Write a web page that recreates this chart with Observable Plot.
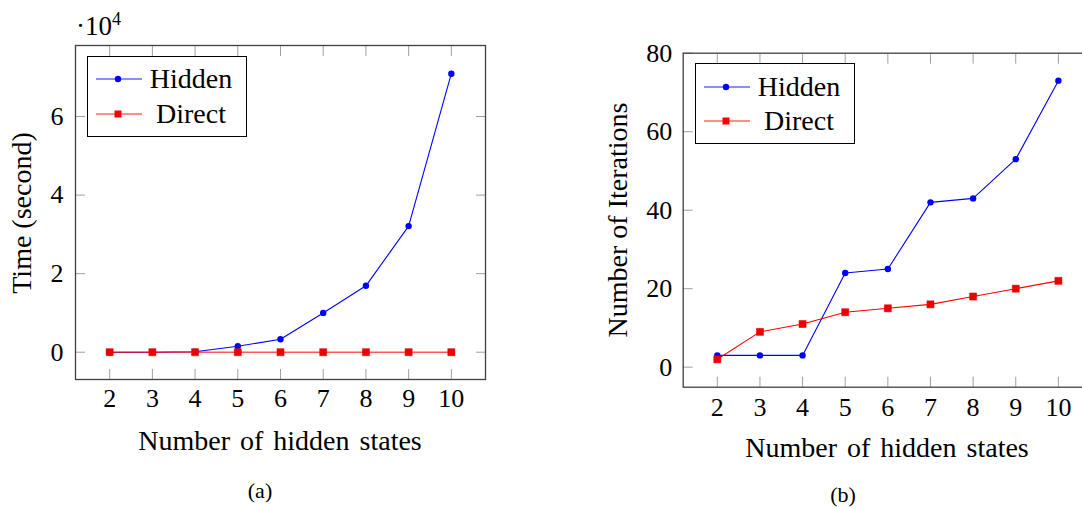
<!DOCTYPE html>
<html>
<head>
<meta charset="utf-8">
<script src="https://cdn.jsdelivr.net/npm/d3@7"></script>
<script src="https://cdn.jsdelivr.net/npm/@observablehq/plot@0.6"></script>
<style>
  html, body { margin: 0; padding: 0; background: #fff; overflow: hidden; }
  #wrap { position: relative; width: 1082px; height: 508px; overflow: hidden; font-family: "Times New Roman", "Liberation Serif", "Nimbus Roman", "DejaVu Serif", serif; color: #000; }
  .abs { position: absolute; white-space: nowrap; }
  .lbl { font-size: 28px; line-height: 1; }
  .legend { position: absolute; border: 1px solid #000; background: #fff; box-sizing: border-box; }
  .legend svg { position: absolute; left: 0; top: 0; }
</style>
</head>
<body>
<div id="wrap"></div>
<script>
// ---- data ----
const states = [2, 3, 4, 5, 6, 7, 8, 9, 10];
const timeHidden = [0, 0, 100, 1500, 3300, 10000, 16900, 32100, 70900];
const timeDirect = [0, 0, 0, 0, 0, 0, 0, 0, 0];
const iterHidden = [3, 3, 3, 24, 25, 42, 43, 53, 73];
const iterDirect = [2, 9, 11, 14, 15, 16, 18, 20, 22];
const xTicks = [2, 3, 4, 5, 6, 7, 8, 9, 10];
const timeTicks = [0, 20000, 40000, 60000];
const iterTicks = [0, 20, 40, 60, 80];
const seriesNames = ["Hidden", "Direct"];
const xLabel = "Number of hidden states";
const yLabelA = "Time (second)";
const yLabelB = "Number of Iterations";

const FONT = '"Times New Roman", "Liberation Serif", "Nimbus Roman", "DejaVu Serif", serif';
const wrap = document.getElementById("wrap");

function panel(cfg) {
  const rows = states.map((s, i) => ({s, hidden: cfg.hidden[i], direct: cfg.direct[i]}));
  const tickStroke = "#a0a0a0";
  const plot = Plot.plot({
    width: cfg.width, height: cfg.height,
    marginLeft: cfg.mL, marginRight: cfg.mR, marginTop: cfg.mT, marginBottom: cfg.mB,
    style: {fontFamily: FONT, fontSize: "26px", background: "transparent", overflow: "visible"},
    x: {domain: cfg.xDomain},
    y: {domain: cfg.yDomain},
    marks: [
      Plot.axisX({anchor: "bottom", ticks: xTicks, tickSize: -10, tickFormat: () => "", stroke: tickStroke, label: null}),
      Plot.axisX({anchor: "top", ticks: xTicks, tickSize: -10, tickFormat: () => "", stroke: tickStroke, label: null}),
      Plot.axisY({anchor: "left", ticks: cfg.yTicks, tickSize: -10, tickFormat: () => "", stroke: tickStroke, label: null}),
      Plot.axisY({anchor: "right", ticks: cfg.yTicks, tickSize: -10, tickFormat: () => "", stroke: tickStroke, label: null}),
      Plot.axisX({anchor: "bottom", ticks: xTicks, tickSize: 0, tickPadding: cfg.xPad, tickFormat: d => String(d), fontSize: 26, fill: "#000", label: null}),
      Plot.axisY({anchor: "left", ticks: cfg.yTicks, tickSize: 0, tickPadding: cfg.yPad, tickFormat: cfg.yFormat, fontSize: 26, fill: "#000", label: null}),
      Plot.line(rows, {x: "s", y: "hidden", stroke: "#0000ff", strokeWidth: 1.1}),
      Plot.line(rows, {x: "s", y: "direct", stroke: "#ff0000", strokeWidth: cfg.redWidth, strokeOpacity: cfg.redOpacity}),
      Plot.dot(rows, {x: "s", y: "hidden", r: 3.2, fill: "#0000ff"}),
      Plot.dot(rows, {x: "s", y: "direct", r: 4, symbol: "square", fill: "#ee0000", stroke: "#dd0000", strokeWidth: 0.5}),
      Plot.frame({stroke: "#404040", strokeWidth: 1.3})
    ]
  });
  plot.style.position = "absolute";
  plot.style.left = cfg.left + "px";
  plot.style.top = "0px";
  wrap.appendChild(plot);
}

panel({
  left: 0, width: 541, height: 508, mL: 75, mR: 56, mT: 45, mB: 129,
  xDomain: [1.2, 10.8], yDomain: [-6950, 78080],
  yTicks: timeTicks, yFormat: d => String(d / 10000),
  hidden: timeHidden, direct: timeDirect,
  xPad: 9, yPad: 12, redWidth: 1.6, redOpacity: 0.65
});

panel({
  left: 541, width: 560, height: 508, mL: 141.7, mR: 9, mT: 52.7, mB: 121.3,
  xDomain: [1.2, 10.8], yDomain: [-5.1, 80],
  yTicks: iterTicks, yFormat: d => String(d),
  hidden: iterHidden, direct: iterDirect,
  xPad: 10, yPad: 11, redWidth: 1.1, redOpacity: 1
});

function addText(text, cx, cy, cls, extra) {
  const d = document.createElement("div");
  d.className = "abs " + cls;
  d.textContent = text;
  d.style.left = cx + "px";
  d.style.top = cy + "px";
  d.style.transform = "translate(-50%, -50%)" + (extra || "");
  wrap.appendChild(d);
  return d;
}

addText(xLabel, 280, 441, "lbl").style.wordSpacing = "3px";
addText(xLabel, 887, 448, "lbl").style.wordSpacing = "3px";
addText(yLabelA, 22, 213, "lbl", " rotate(-90deg)");
addText(yLabelB, 618, 220, "lbl", " rotate(-90deg)");

const capA = addText("(a)", 260, 491, "");
capA.style.fontSize = "22px";
const capB = addText("(b)", 843, 495, "");
capB.style.fontSize = "22px";

const sf = document.createElement("div");
sf.className = "abs";
sf.style.left = "76px";
sf.style.top = "13px";
sf.style.fontSize = "27px";
sf.style.lineHeight = "1";
sf.innerHTML = "·10<sup style=\"font-size:18px;vertical-align:0;position:relative;top:-10px\">4</sup>";
wrap.appendChild(sf);

function legend(left, top, w, h, rows) {
  const box = document.createElement("div");
  box.className = "legend";
  box.style.left = left + "px";
  box.style.top = top + "px";
  box.style.width = w + "px";
  box.style.height = h + "px";
  const ns = "http://www.w3.org/2000/svg";
  const svg = document.createElementNS(ns, "svg");
  svg.setAttribute("width", w);
  svg.setAttribute("height", h);
  rows.forEach(r => {
    const y = r.y;
    const line = document.createElementNS(ns, "line");
    line.setAttribute("x1", 8); line.setAttribute("x2", 54);
    line.setAttribute("y1", y); line.setAttribute("y2", y);
    line.setAttribute("stroke", r.color); line.setAttribute("stroke-width", 1.6);
    line.setAttribute("stroke-opacity", 0.6);
    svg.appendChild(line);
    let m;
    if (r.shape === "circle") {
      m = document.createElementNS(ns, "circle");
      m.setAttribute("cx", 30); m.setAttribute("cy", y); m.setAttribute("r", 3.2);
    } else {
      m = document.createElementNS(ns, "rect");
      m.setAttribute("x", 26.5); m.setAttribute("y", y - 3.5);
      m.setAttribute("width", 7); m.setAttribute("height", 7);
    }
    m.setAttribute("fill", r.color);
    svg.appendChild(m);
  });
  box.appendChild(svg);
  rows.forEach(r => {
    const t = document.createElement("div");
    t.className = "abs lbl";
    t.textContent = r.name;
    t.style.left = r.tx + "px";
    t.style.top = r.y + "px";
    t.style.transform = "translate(-50%, -50%)";
    box.appendChild(t);
  });
  wrap.appendChild(box);
}

legend(87, 56, 160, 81, [
  {name: seriesNames[0], color: "#0000ff", shape: "circle", y: 22, tx: 103},
  {name: seriesNames[1], color: "#ff0000", shape: "square", y: 57, tx: 103}
]);
legend(695, 63, 160, 81, [
  {name: seriesNames[0], color: "#0000ff", shape: "circle", y: 23, tx: 103},
  {name: seriesNames[1], color: "#ff0000", shape: "square", y: 57, tx: 103}
]);
</script>
</body>
</html>
